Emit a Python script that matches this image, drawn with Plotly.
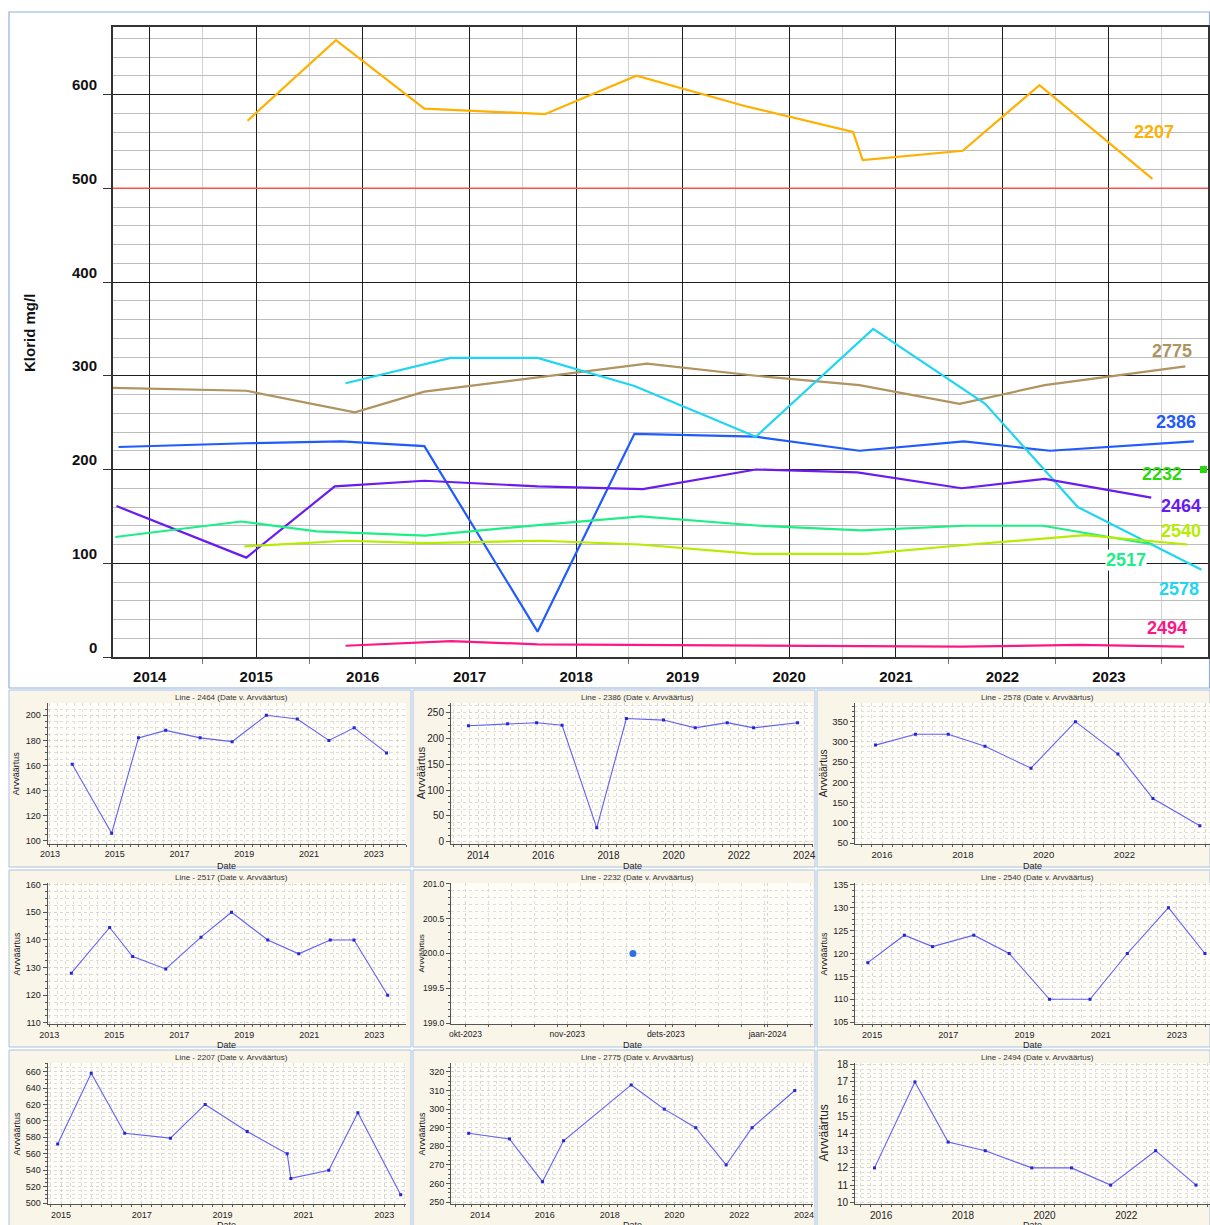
import plotly.graph_objects as go
from datetime import datetime

W, H = 1210, 1225
FONT = "Liberation Sans, Arial, sans-serif"

# ---------------- data ----------------
d2207 = ["2014-12-02", "2015-10-01", "2016-07-30", "2017-09-16", "2018-07-27", "2019-08-11",
         "2020-08-07", "2020-09-09", "2021-08-18", "2022-05-08", "2023-05-30"]
v2207 = [572, 658, 585, 579, 620, 587, 560, 530, 540, 610, 510]

d2775 = ["2013-08-25", "2014-11-28", "2015-12-05", "2016-07-30", "2018-09-01", "2019-09-09",
         "2020-08-29", "2021-08-07", "2022-05-26", "2023-09-20"]
v2775 = [287, 284, 261, 283, 313, 300, 290, 270, 290, 310]

d2386 = ["2013-09-16", "2014-11-28", "2015-10-19", "2016-07-30", "2017-08-22", "2018-07-20",
         "2019-09-09", "2020-08-29", "2021-08-22", "2022-06-13", "2023-10-19"]
v2386 = [224, 228, 230, 225, 27, 238, 235, 220, 230, 220, 230]

d2578 = ["2015-11-03", "2016-10-29", "2017-08-22", "2018-07-20", "2019-09-09", "2020-10-15",
         "2021-11-03", "2022-09-16", "2023-11-14"]
v2578 = [292, 319, 319, 289, 235, 350, 270, 160, 93]

d2464 = ["2013-09-09", "2014-11-28", "2015-09-27", "2016-07-30", "2017-08-22", "2018-08-18",
         "2019-09-09", "2020-08-22", "2021-08-14", "2022-05-26", "2023-05-26"]
v2464 = [161, 106, 182, 188, 182, 179, 200, 197, 180, 190, 170]

d2517 = ["2013-09-05", "2014-11-10", "2015-07-27", "2016-08-02", "2017-09-02", "2018-08-11",
         "2019-09-23", "2020-09-05", "2021-08-25", "2022-05-19", "2023-06-02"]
v2517 = [128, 144.5, 134, 129.5, 141, 150, 140, 135, 140, 140, 120]

d2540 = ["2014-11-21", "2015-11-06", "2016-08-02", "2017-09-02", "2018-08-07", "2019-08-29",
         "2020-09-20", "2021-09-13", "2022-10-12", "2023-09-27"]
v2540 = [118, 124, 121.5, 124, 120, 110, 110, 120, 130, 120]

d2494 = ["2015-11-03", "2016-10-29", "2017-08-22", "2018-07-20", "2019-09-09", "2020-08-29",
         "2021-08-14", "2022-09-20", "2023-09-16"]
v2494 = [12, 17, 13.5, 13, 12, 12, 11, 13, 11]

d2232 = ["2023-11-21"]
v2232 = [200]

main_ticks = [0, 100, 200, 300, 400, 500, 600]
limit_value = 500
month_vals = ["2023-10-01", "2023-11-01", "2023-12-01", "2024-01-01"]
month_text = ["okt-2023", "nov-2023", "dets-2023", "jaan-2024"]

COL = {"2207": "#FFB000", "2775": "#B0935F", "2386": "#1F5BFF", "2232": "#2ED80F",
       "2464": "#6A1CF0", "2540": "#B6EC00", "2517": "#1EEE86", "2578": "#1FD6F2",
       "2494": "#FF1685"}


def fy(f):
    y = int(f)
    a, b = datetime(y, 1, 1), datetime(y + 1, 1, 1)
    return (a + (b - a) * (f - y)).strftime("%Y-%m-%d %H:%M")


def px(x):
    return x / W


def py(y):
    return 1 - y / H


fig = go.Figure()
layout = dict(width=W, height=H, margin=dict(l=0, r=0, t=0, b=0),
              paper_bgcolor="white", plot_bgcolor="rgba(0,0,0,0)",
              showlegend=False, font=dict(family=FONT, color="#222"))
shapes, annotations = [], []


def note(x, y, text, size, color="#222", bold=False, angle=0, yref="paper", yshift=0,
         xanchor="center", bg=None):
    annotations.append(dict(xref="paper", yref=yref, x=x, y=y, yshift=yshift, text=text,
                            xanchor=xanchor, yanchor="middle", textangle=angle,
                            showarrow=False, bgcolor=bg, borderpad=0,
                            font=dict(size=size, family=FONT, color=color,
                                      weight="bold" if bold else "normal")))


# ---------------- main chart ----------------
shapes.append(dict(type="rect", xref="paper", yref="paper", x0=px(9), x1=px(1209.5),
                   y0=py(688), y1=py(12), line=dict(color="#8FB0DC", width=1.2),
                   fillcolor="white", layer="below"))

main_series = [("2207", d2207, v2207), ("2775", d2775, v2775), ("2386", d2386, v2386),
               ("2578", d2578, v2578), ("2464", d2464, v2464), ("2517", d2517, v2517),
               ("2540", d2540, v2540), ("2494", d2494, v2494)]
for name, d, v in main_series:
    fig.add_trace(go.Scatter(x=d, y=v, mode="lines", name=name, xaxis="x", yaxis="y",
                             line=dict(color=COL[name], width=2.2)))
fig.add_trace(go.Scatter(x=d2232, y=v2232, mode="markers", name="2232", xaxis="x", yaxis="y",
                         marker=dict(symbol="square", size=7, color=COL["2232"]),
                         cliponaxis=False))

layout["xaxis"] = dict(domain=[px(113), px(1208)], anchor="y", type="date",
                       range=[fy(2013.655), fy(2023.93)], tick0="2014-01-01", dtick="M12",
                       tickformat="%Y", showgrid=True, gridcolor="#1E1E1E", gridwidth=1.3,
                       ticks="outside", ticklen=5, tickcolor="rgba(0,0,0,0)",
                       tickfont=dict(size=15, family=FONT, color="#111", weight="bold"),
                       minor=dict(dtick="M6", showgrid=True, gridcolor="#D2D2D2", gridwidth=1,
                                  ticks="outside", ticklen=5, tickcolor="#777"),
                       showline=True, linecolor="#333", linewidth=1.6, mirror=True,
                       zeroline=False, automargin=False)
layout["yaxis"] = dict(domain=[py(657), py(27)], anchor="x", range=[0, 672], tick0=0, dtick=100,
                       showgrid=True, gridcolor="#1E1E1E", gridwidth=1.3, showticklabels=False,
                       ticks="outside", ticklen=8, tickcolor="#333",
                       minor=dict(dtick=20, showgrid=True, gridcolor="#BDBDBD", gridwidth=1),
                       showline=True, linecolor="#333", linewidth=1.6, mirror=True,
                       zeroline=False, automargin=False)

shapes.append(dict(type="line", xref="x domain", yref="y", x0=0, x1=1, y0=limit_value,
                   y1=limit_value, line=dict(color="#FF5050", width=1.5), layer="above"))

for t in main_ticks:
    note(px(98), t, str(t), 15, "#111", True, yref="y", yshift=10, xanchor="right")
note(px(30), py(333), "Klorid mg/l", 15, "#111", True, angle=-90)

labels = [("2207", 1154, 132), ("2775", 1172, 351), ("2386", 1176, 422), ("2232", 1162, 474),
          ("2464", 1181, 506), ("2540", 1181, 531), ("2517", 1126, 560), ("2578", 1179, 589),
          ("2494", 1167, 628)]
for name, lx, ly in labels:
    note(px(lx), py(ly), name, 18, COL[name], True, bg="white" if name == "2517" else None)

# ---------------- small panels ----------------
colx = [(47.7, 406), (451, 813), (855, 1210)]
rowy = [(703, 843.5), (883, 1024), (1063, 1204)]
panel_cols = [(9, 411), (413, 815), (817, 1210)]
panel_rows = [(690, 867), (870, 1047), (1050, 1226)]
ytitle_x = [16, 421, 823]
date_y = [866, 1045, 1225]

panels = [
    ("2464", d2464, v2464, 0, 0, [fy(2012.93), fy(2024.0)], "2013-01-01", [97.8, 209.8], 20, 5, 9, 9),
    ("2386", d2386, v2386, 1, 0, [fy(2013.17), fy(2024.27)], "2014-01-01", [-3.3, 268], 50, 12.5, 10, 11),
    ("2578", d2578, v2578, 2, 0, [fy(2015.33), fy(2024.12)], "2016-01-01", [49, 396], 50, 12.5, 9.5, 10),
    ("2517", d2517, v2517, 0, 1, [fy(2012.95), fy(2023.98)], "2013-01-01", [109.6, 160.6], 10, 2.5, 9, 9),
    ("2232", d2232, v2232, 1, 1, ["2023-09-26 14:00", "2024-01-14 20:00"], None, [198.99, 201.01], 0.5, 0.1, 8.5, 8),
    ("2540", d2540, v2540, 2, 1, [fy(2014.55), fy(2023.87)], "2015-01-01", [104.6, 135.4], 5, 1.25, 9, 9),
    ("2207", d2207, v2207, 0, 2, [fy(2014.67), fy(2023.54)], "2015-01-01", [498.8, 670.5], 20, 5, 9, 9),
    ("2775", d2775, v2775, 1, 2, [fy(2013.10), fy(2024.28)], "2014-01-01", [249, 324.8], 10, 2.5, 9, 9),
    ("2494", d2494, v2494, 2, 2, [fy(2015.36), fy(2024.05)], "2016-01-01", [9.9, 18.1], 1, 0.25, 10, 12),
]

for i, (name, d, v, c, r, xr, xt0, yr, ydt, ymin, tfs, yts) in enumerate(panels):
    n = i + 2
    xa, ya = f"x{n}", f"y{n}"
    shapes.append(dict(type="rect", xref="paper", yref="paper",
                       x0=px(panel_cols[c][0]), x1=px(panel_cols[c][1]),
                       y0=py(panel_rows[r][1]), y1=py(panel_rows[r][0]),
                       line=dict(color="#A9C2E4", width=1), fillcolor="#FAF5E9", layer="below"))
    shapes.append(dict(type="rect", xref="paper", yref="paper",
                       x0=px(colx[c][0]), x1=px(colx[c][1]), y0=py(rowy[r][1]), y1=py(rowy[r][0]),
                       line=dict(width=0), fillcolor="#FFFDF8", layer="below"))
    if name == "2232":
        fig.add_trace(go.Scatter(x=d, y=v, mode="markers", xaxis=xa, yaxis=ya,
                                 marker=dict(size=7, color="#2F6FE6")))
    else:
        fig.add_trace(go.Scatter(x=d, y=v, mode="lines+markers", xaxis=xa, yaxis=ya,
                                 line=dict(color="#6060F4", width=1.1),
                                 marker=dict(symbol="square", size=3, color="#2424D8")))
    xdict = dict(domain=[px(colx[c][0]), px(colx[c][1])], anchor=ya, type="date", range=xr,
                 showline=True, linecolor="#555", linewidth=1, ticks="outside", ticklen=2,
                 tickcolor="#555", tickfont=dict(size=tfs, family=FONT, color="#222"),
                 showgrid=True, gridcolor="#D6D6D6", griddash="dot", gridwidth=1,
                 zeroline=False, automargin=False)
    if name == "2232":
        xdict.update(tickmode="array", tickvals=month_vals, ticktext=month_text,
                     minor=dict(dtick=7 * 86400000, tick0="2023-10-01", ticks="outside", ticklen=2,
                                tickcolor="#555", showgrid=True, gridcolor="#DEDEDE",
                                griddash="dot"))
    else:
        xdict.update(tick0=xt0, dtick="M24", tickformat="%Y",
                     minor=dict(dtick="M3", ticks="outside", ticklen=2, tickcolor="#555",
                                showgrid=True, gridcolor="#DEDEDE", griddash="dot"))
    ydict = dict(domain=[py(rowy[r][1]), py(rowy[r][0])], anchor=xa, range=yr, dtick=ydt,
                 tickformat=".1f" if name == "2232" else None,
                 showline=True, linecolor="#555", linewidth=1, ticks="outside", ticklen=4,
                 tickcolor="#555", tickfont=dict(size=tfs, family=FONT, color="#222"),
                 showgrid=True, gridcolor="#D6D6D6", griddash="dot", gridwidth=1,
                 minor=dict(dtick=ymin, ticks="outside", ticklen=2, tickcolor="#555",
                            showgrid=True, gridcolor="#DEDEDE", griddash="dot"),
                 zeroline=False, automargin=False)
    layout[f"xaxis{n}"] = xdict
    layout[f"yaxis{n}"] = ydict
    cx = (colx[c][0] + colx[c][1]) / 2
    note(px(cx + 5), py(rowy[r][0] - 6), f"Line - {name} (Date v. Arvväärtus)", 8, "#333")
    note(px(cx), py(date_y[r]), "Date", 9)
    note(px(ytitle_x[c]), py((rowy[r][0] + rowy[r][1]) / 2), "Arvväärtus", yts, angle=-90)

layout["shapes"] = shapes
layout["annotations"] = annotations
fig.update_layout(**layout)
fig.write_html("out.html", config={"displayModeBar": False},
               post_script="document.body.style.margin='0';"
                           "document.body.style.overflow='hidden';"
                           "document.documentElement.style.overflow='hidden';")
